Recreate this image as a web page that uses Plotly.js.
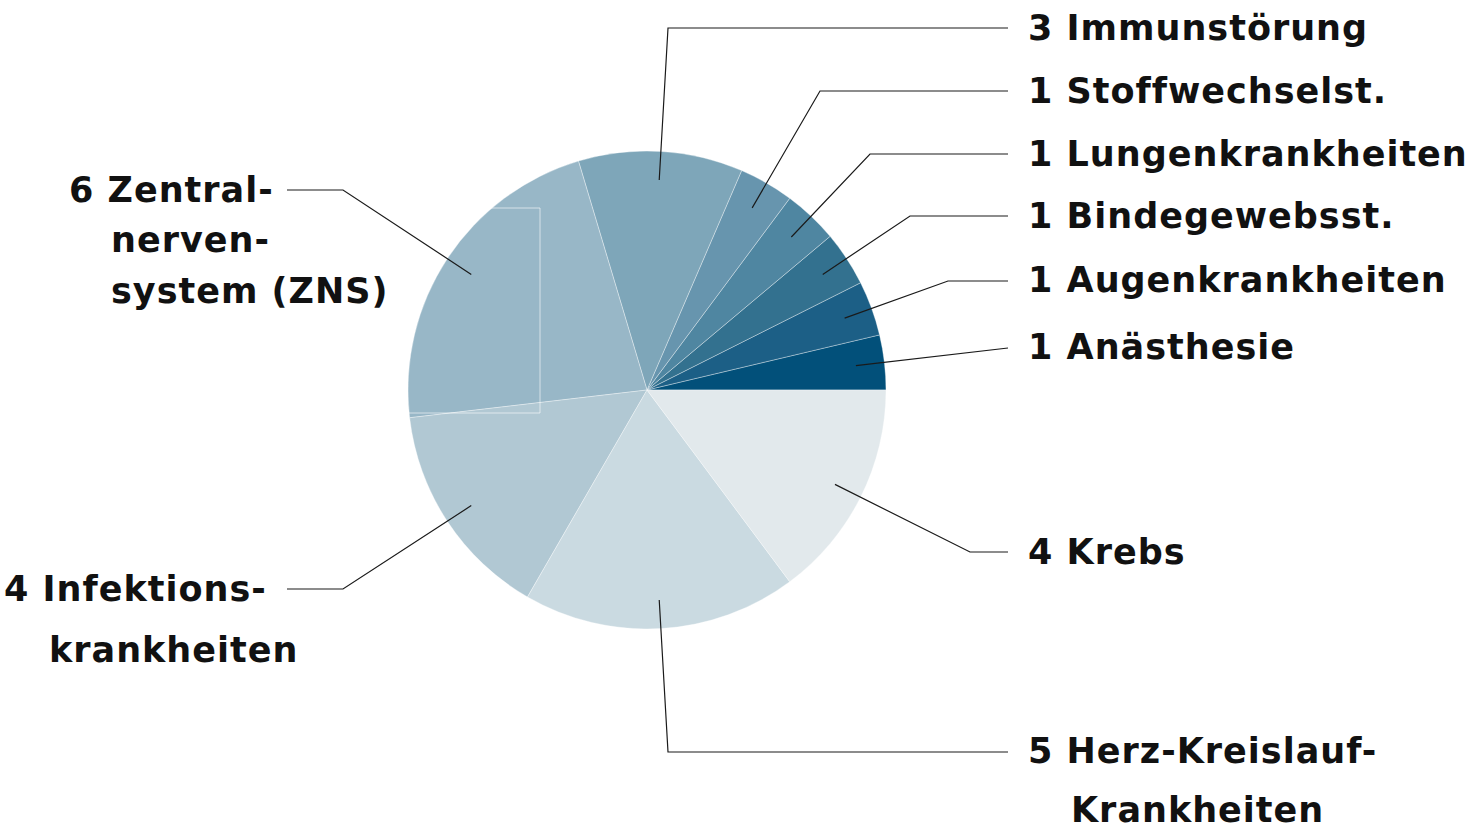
<!DOCTYPE html>
<html>
<head>
<meta charset="utf-8">
<script src="https://cdn.plot.ly/plotly-3.0.1.min.js"></script>
<style>
html,body{margin:0;padding:0;background:#fff;}
#chart{width:1471px;height:832px;}
text.annotation-text{letter-spacing:1px;}
</style>
</head>
<body>
<div id="chart"></div>
<script>
// ---- data ----
const categories = ['Anästhesie','Augenkrankheiten','Bindegewebsst.','Lungenkrankheiten','Stoffwechselst.','Immunstörung','Zentralnervensystem (ZNS)','Infektionskrankheiten','Herz-Kreislauf-Krankheiten','Krebs'];
const values = [1,1,1,1,1,3,6,4,5,4];
const labelLines = [
  ['Anästhesie'],
  ['Augenkrankheiten'],
  ['Bindegewebsst.'],
  ['Lungenkrankheiten'],
  ['Stoffwechselst.'],
  ['Immunstörung'],
  ['Zentral-','nerven-','system (ZNS)'],
  ['Infektions-','krankheiten'],
  ['Herz-Kreislauf-','Krankheiten'],
  ['Krebs']
];
const colors = ['#02507a','#1c5f86','#33718f','#4f86a1','#6795ae','#7ea6b9','#98b7c7','#b1c8d3','#cadae1','#e2e9ec'];

// ---- layout helpers (pixel -> paper) ----
const W = 1471, H = 832;
const px = x => x / W;
const py = y => 1 - y / H;
const CX = 647, CY = 390, R = 239;

// label placement: each line [x, y] (px), and leader elbow points (px)
const labelPos = [
  {lines:[[1026,347]], elbow:[[1008,348]]},
  {lines:[[1026,280]], elbow:[[948,281],[1008,281]]},
  {lines:[[1026,216]], elbow:[[910,216],[1008,216]]},
  {lines:[[1026,154]], elbow:[[870,154],[1008,154]]},
  {lines:[[1026,91]],  elbow:[[820,91],[1008,91]]},
  {lines:[[1026,28]],  elbow:[[668,28],[1008,28]]},
  {lines:[[67,190],[109,240],[109,291]], elbow:[[343,190],[287,190]]},
  {lines:[[2,589],[47,650]], elbow:[[343,589],[287,589]]},
  {lines:[[1026,751],[1069,810]], elbow:[[668,752],[1008,752]]},
  {lines:[[1026,552]], elbow:[[970,552],[1008,552]]}
];

const total = values.reduce((a,b)=>a+b,0);
const annotations = [];
const shapes = [];
let cum = 0;
values.forEach((v,i)=>{
  const mid = (cum + v/2) / total * 2*Math.PI;
  cum += v;
  const rho = 0.88 * R;
  const ix = CX + rho*Math.cos(mid), iy = CY - rho*Math.sin(mid);
  let path = `M${px(ix)},${py(iy)}`;
  labelPos[i].elbow.forEach(p=>{ path += ` L${px(p[0])},${py(p[1])}`; });
  shapes.push({type:'path', xref:'paper', yref:'paper', path:path,
    line:{color:'#1a1a1a', width:1.2}});
  labelLines[i].forEach((t,k)=>{
    const txt = k===0 ? values[i] + ' ' + t : t;
    const p = labelPos[i].lines[k];
    annotations.push({xref:'paper', yref:'paper', x:px(p[0]), y:py(p[1]),
      xanchor:'left', yanchor:'middle', align:'left', showarrow:false, text:txt,
      font:{family:'DejaVu Sans, sans-serif', size:35, color:'#111', weight:'bold'}});
  });
});

// faint rectangle artifact inside the ZNS slice
shapes.push({type:'path', xref:'paper', yref:'paper',
  path:`M${px(491)},${py(208)} L${px(540)},${py(208)} L${px(540)},${py(413)} L${px(408)},${py(413)}`,
  line:{color:'rgba(255,255,255,0.6)', width:1}});

// first slice starts at 3 o'clock and runs counterclockwise
const rotation = 90 - values[0] / total * 360;

const trace = {
  type:'pie',
  labels: categories,
  values: values,
  sort:false,
  direction:'counterclockwise',
  rotation:rotation,
  textinfo:'none',
  hoverinfo:'label+value',
  marker:{colors:colors, line:{color:'rgba(255,255,255,0.35)', width:1}},
  domain:{x:[px(CX-R), px(CX+R)], y:[py(CY+R), py(CY-R)]},
  showlegend:false
};

const layout = {
  width:W, height:H,
  margin:{l:0,r:0,t:0,b:0},
  paper_bgcolor:'#ffffff',
  plot_bgcolor:'#ffffff',
  showlegend:false,
  annotations:annotations,
  shapes:shapes
};

Plotly.newPlot('chart',[trace],layout,{displayModeBar:false,staticPlot:true});
</script>
</body>
</html>
